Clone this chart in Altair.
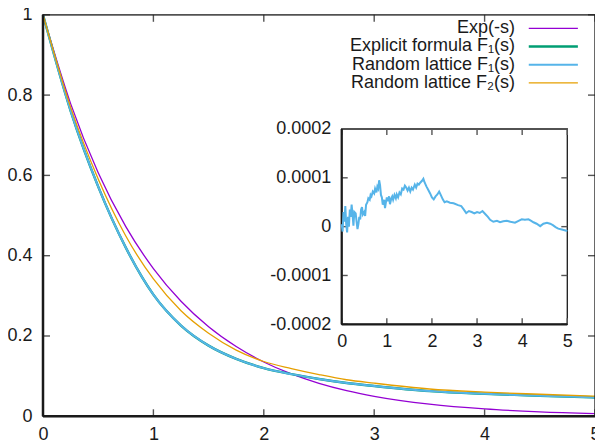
import altair as alt
import pandas as pd

# ---------------- data ----------------
s_grid = [0, 0.25, 0.5, 0.75, 1.0, 1.25, 1.5, 1.75, 2.0, 2.25, 2.5, 2.75, 3.0, 3.5, 4.0, 4.5, 5.0]
exp_vals = [1.0, 0.7788, 0.6065, 0.4724, 0.3679, 0.2865, 0.2231, 0.1738, 0.1353, 0.1054,
            0.0821, 0.0639, 0.0498, 0.0302, 0.0183, 0.0111, 0.0067]
f1_formula = [1.0, 0.761, 0.572, 0.420, 0.303, 0.226, 0.176, 0.143, 0.120, 0.105,
              0.093, 0.083, 0.0755, 0.0628, 0.056, 0.0513, 0.047]
f1_lattice = [1.0, 0.761, 0.572, 0.420, 0.303, 0.226, 0.176, 0.143, 0.120, 0.105,
              0.093, 0.083, 0.0755, 0.0628, 0.056, 0.0513, 0.047]
f2_lattice = [1.0, 0.770, 0.591, 0.449, 0.342, 0.263, 0.207, 0.165, 0.1365, 0.119,
              0.104, 0.091, 0.0825, 0.068, 0.0603, 0.0549, 0.050]

series_names = ["Exp(-s)", "Explicit formula F\u2081(s)", "Random lattice F\u2081(s)", "Random lattice F\u2082(s)"]
series_values = [exp_vals, f1_formula, f1_lattice, f2_lattice]
series_colors = ["#9400d3", "#009e73", "#56b4e9", "#e69f00"]
series_widths = [1.3, 2.4, 2.0, 1.3]

# inset: difference curve, values in units of 1e-4
inset_s = [0.00, 0.02, 0.04, 0.06, 0.08, 0.10, 0.12, 0.14, 0.16, 0.18, 0.20, 0.22, 0.24, 0.26,
           0.28, 0.31, 0.33, 0.35, 0.37, 0.39, 0.41, 0.43, 0.45, 0.47, 0.50, 0.52, 0.54, 0.57,
           0.59, 0.62, 0.64, 0.66, 0.69, 0.72, 0.74, 0.77, 0.79, 0.81, 0.83, 0.85, 0.87, 0.89,
           0.91, 0.94, 0.96, 0.98, 1.00, 1.02, 1.05, 1.07, 1.10, 1.12, 1.14, 1.17, 1.20, 1.22,
           1.25, 1.28, 1.31, 1.34, 1.37, 1.40, 1.43, 1.46, 1.49, 1.52, 1.55, 1.58, 1.62, 1.65,
           1.68, 1.71, 1.74, 1.78, 1.81, 1.84, 1.88, 1.92, 1.96, 2.00, 2.04, 2.08, 2.12, 2.16,
           2.20, 2.24, 2.28, 2.33, 2.40, 2.48, 2.58, 2.65, 2.70, 2.76, 2.82, 2.88, 2.94, 3.00,
           3.06, 3.12, 3.18, 3.24, 3.29, 3.36, 3.44, 3.51, 3.58, 3.66, 3.74, 3.84, 3.92, 3.99,
           4.06, 4.14, 4.20, 4.25, 4.32, 4.40, 4.47, 4.55, 4.62, 4.68, 4.74, 4.80, 4.88, 4.96, 5.00]
inset_diff_e4 = [0.05, -0.10, 0.30, 0.10, 0.42, 0.05, -0.12, 0.20, 0.00, 0.35, 0.20, 0.45, 0.25, 0.02,
                 0.30, 0.27, 0.10, -0.05, 0.05, 0.20, 0.15, 0.35, 0.40, 0.25, 0.30, 0.22, 0.45, 0.50,
                 0.58, 0.55, 0.65, 0.62, 0.72, 0.68, 0.78, 0.70, 0.82, 0.78, 0.95, 0.85, 0.65, 0.60,
                 0.45, 0.55, 0.38, 0.50, 0.60, 0.52, 0.62, 0.46, 0.58, 0.62, 0.55, 0.65, 0.58, 0.66,
                 0.60, 0.70, 0.66, 0.78, 0.76, 0.84, 0.80, 0.74, 0.80, 0.72, 0.80, 0.76, 0.86, 0.80,
                 0.88, 0.86, 0.90, 0.94, 0.98, 0.90, 0.82, 0.75, 0.68, 0.60, 0.56, 0.62, 0.66, 0.72,
                 0.64, 0.56, 0.50, 0.52, 0.49, 0.48, 0.44, 0.42, 0.36, 0.28, 0.32, 0.30, 0.27, 0.30,
                 0.28, 0.32, 0.26, 0.20, 0.14, 0.10, 0.12, 0.09, 0.11, 0.12, 0.10, 0.08, 0.12, 0.15,
                 0.14, 0.15, 0.12, 0.09, 0.06, 0.01, 0.06, 0.08, 0.06, 0.03, -0.01, -0.04, -0.06, -0.08, -0.09]

x_ticks = [0, 1, 2, 3, 4, 5]
y_ticks = [0, 0.2, 0.4, 0.6, 0.8, 1.0]
inset_x_ticks = [0, 1, 2, 3, 4, 5]
inset_y_ticks = [-0.0002, -0.0001, 0, 0.0001, 0.0002]

# ---------------- layout ----------------
W, H = 552, 401.5
PAD_L, PAD_T = 35, 6.8
FONT = "Liberation Sans"
FS = 18
INK = "#1a1a1a"
TICK = "#555555"

IX0, IX1 = 298.7, 524.3     # inset plot range (px within main plot)
IYB, IYT = 309.5, 114.2

X = alt.Scale(domain=[0, 5], nice=False, zero=False)
Y = alt.Scale(domain=[0, 1], nice=False, zero=False)
XI = alt.Scale(domain=[0, 5], range=[IX0, IX1], nice=False, zero=False)
YI = alt.Scale(domain=[-0.0002, 0.0002], range=[IYB, IYT], nice=False, zero=False)

common = dict(title=None, ticks=False, tickSize=0, grid=False, domain=False, labelFont=FONT,
              labelFontSize=FS, labelColor=INK, labelOverlap=False)
ax_x = alt.Axis(values=x_ticks, format="d", labelPadding=9, labelFlush=False, orient="bottom", **common)
ax_y = alt.Axis(values=y_ticks, format="~g", labelPadding=11, orient="left", **common)
# inset axes use the opposite orients (one axis per side), shifted into place with offsets
ax_xi = alt.Axis(values=inset_x_ticks, format="d", labelFlush=False, orient="top",
                 offset=-(IYB + 17), labelPadding=0, labelBaseline="middle", **common)
ax_yi = alt.Axis(values=inset_y_ticks, orient="right", offset=(IX0 - 11) - W, labelPadding=0,
                 labelAlign="right", labelBaseline="middle",
                 labelExpr="datum.value == 0 ? '0' : (datum.value < 0 ? '-' : '') + format(abs(datum.value), '.4f')",
                 **common)


def mx(field):
    return alt.X(field, scale=X, axis=ax_x)


def my(field):
    return alt.Y(field, scale=Y, axis=ax_y)


def ix(field):
    return alt.X(field, scale=XI, axis=ax_xi)


def iy(field):
    return alt.Y(field, scale=YI, axis=ax_yi)


# ---------------- main plot ----------------
main_layers = []
for name, vals, col, w in zip(series_names, series_values, series_colors, series_widths):
    df = pd.DataFrame({"s": s_grid, "F": vals})
    main_layers.append(
        alt.Chart(df).mark_line(color=col, strokeWidth=w, interpolate="monotone").encode(
            x=mx("s:Q"), y=my("F:Q"))
    )

main_box = alt.Chart(pd.DataFrame({"bx": [0], "bx2": [5], "by": [0], "by2": [1]})).mark_rect(
    fillOpacity=0, stroke=INK, strokeWidth=1.3).encode(
    x=mx("bx:Q"), x2="bx2:Q", y=my("by:Q"), y2="by2:Q")
main_edges = alt.Chart(pd.DataFrame({"x": [0, 0], "x2": [0, 5], "y": [0, 0], "y2": [1, 0]})).mark_rule(
    color=INK, strokeWidth=2.5).encode(
    x=mx("x:Q"), x2="x2:Q", y=my("y:Q"), y2="y2:Q")

tx = 7 * 5 / W
ty = 7 / H
mt = []
for v in x_ticks:
    mt.append({"x": v, "x2": v, "y": 0, "y2": ty})
    mt.append({"x": v, "x2": v, "y": 1, "y2": 1 - ty})
for v in y_ticks:
    mt.append({"x": 0, "x2": tx, "y": v, "y2": v})
    mt.append({"x": 5, "x2": 5 - tx, "y": v, "y2": v})
main_ticks = alt.Chart(pd.DataFrame(mt)).mark_rule(color=TICK, strokeWidth=1.4).encode(
    x=mx("x:Q"), x2="x2:Q", y=my("y:Q"), y2="y2:Q")

# legend (gnuplot style: text left of the sample line)
leg = pd.DataFrame({"name": series_names, "row": [0, 1, 2, 3]})
leg["ly"] = 1 - (13.5 + 18.2 * leg["row"]) / H
leg["tx"] = 4.275
leg["lx1"] = 4.40
leg["lx2"] = 4.845
leg_text = alt.Chart(leg).mark_text(align="right", baseline="middle", font=FONT, fontSize=FS,
                                    color=INK).encode(
    x=mx("tx:Q"), y=my("ly:Q"), text="name:N")
leg_lines = []
for i in range(4):
    leg_lines.append(
        alt.Chart(leg[leg["row"] == i]).mark_rule(color=series_colors[i], strokeWidth=series_widths[i]).encode(
            x=mx("lx1:Q"), x2="lx2:Q", y=my("ly:Q"))
    )

main = alt.layer(*main_layers, main_ticks, main_box, main_edges, leg_text, *leg_lines)

# ---------------- inset ----------------
ins_df = pd.DataFrame({"si": inset_s, "de4": inset_diff_e4})
ins_df["d"] = ins_df["de4"] * 1e-4

box = alt.Chart(pd.DataFrame({"bx": [0], "bx2": [5], "by": [-0.0002], "by2": [0.0002]})).mark_rect(
    fillOpacity=0, stroke=INK, strokeWidth=1.3).encode(
    x=ix("bx:Q"), x2="bx2:Q", y=iy("by:Q"), y2="by2:Q")
inset_edges = alt.Chart(pd.DataFrame({"x": [0, 0], "x2": [0, 5], "y": [-0.0002, -0.0002],
                                      "y2": [0.0002, -0.0002]})).mark_rule(
    color=INK, strokeWidth=2.2).encode(
    x=ix("x:Q"), x2="x2:Q", y=iy("y:Q"), y2="y2:Q")

itx = 6 * 5 / (IX1 - IX0)
ity = 6 * 0.0004 / (IYB - IYT)
it = []
for v in inset_x_ticks:
    it.append({"x": v, "x2": v, "y": -0.0002, "y2": -0.0002 + ity})
    it.append({"x": v, "x2": v, "y": 0.0002, "y2": 0.0002 - ity})
for v in inset_y_ticks:
    it.append({"x": 0, "x2": itx, "y": v, "y2": v})
    it.append({"x": 5, "x2": 5 - itx, "y": v, "y2": v})
inset_ticks = alt.Chart(pd.DataFrame(it)).mark_rule(color=TICK, strokeWidth=1.4).encode(
    x=ix("x:Q"), x2="x2:Q", y=iy("y:Q"), y2="y2:Q")

inset_line = alt.Chart(ins_df).mark_line(color="#56b4e9", strokeWidth=2).encode(
    x=ix("si:Q"), y=iy("d:Q"))

inset = alt.layer(box, inset_ticks, inset_edges, inset_line)

chart = alt.layer(main, inset).resolve_scale(x="independent", y="independent").properties(
    width=W, height=H,
    autosize=alt.AutoSizeParams(type="none"),
    padding={"left": PAD_L, "top": PAD_T, "right": 0, "bottom": 40},
).configure_view(stroke=None).configure(background="white")

chart.save("out.html", embed_options={"renderer": "svg", "actions": False})
